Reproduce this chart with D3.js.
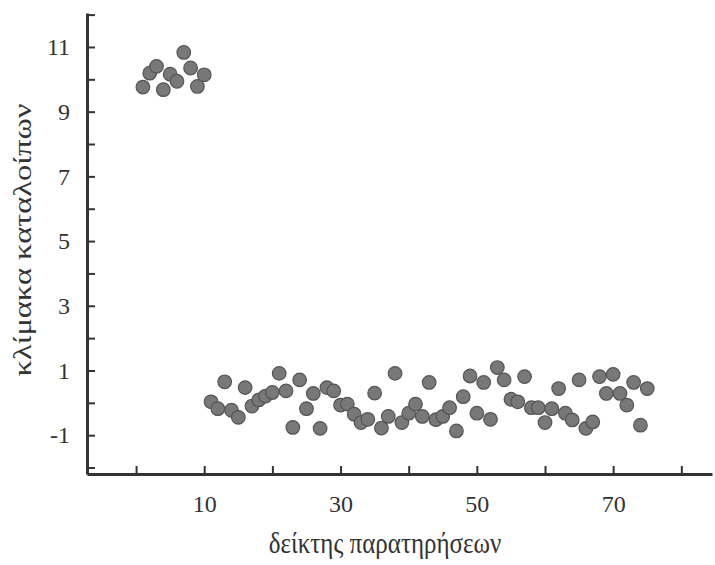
<!DOCTYPE html>
<html>
<head>
<meta charset="utf-8">
<script src="https://cdn.jsdelivr.net/npm/d3@7"></script>
<style>
  body { margin: 0; background: #fff; }
  svg text { font-family: "Liberation Serif", "Times New Roman", serif; fill: #333; }
</style>
</head>
<body>
<div id="chart"></div>
<script>
  let obsIndex = d3.range(1, 76);
  let residuals = [
    9.76, 10.19, 10.40, 9.68, 10.16, 9.94, 10.83, 10.35, 9.78, 10.14,
    0.03, -0.18, 0.65, -0.23, -0.45, 0.47, -0.10, 0.09, 0.21, 0.32,
    0.91, 0.37, -0.76, 0.71, -0.18, 0.29, -0.79, 0.47, 0.37, -0.07,
    -0.04, -0.35, -0.61, -0.51, 0.30, -0.78, -0.42, 0.91, -0.61, -0.32,
    -0.04, -0.42, 0.63, -0.52, -0.42, -0.15, -0.87, 0.19, 0.83, -0.32,
    0.63, -0.51, 1.09, 0.71, 0.11, 0.03, 0.81, -0.15, -0.15, -0.61,
    -0.18, 0.44, -0.32, -0.53, 0.71, -0.79, -0.59, 0.81, 0.29, 0.88,
    0.29, -0.07, 0.63, -0.69, 0.44
  ];
  let xTicks = [0, 10, 20, 30, 40, 50, 60, 70, 80];
  let xTickLabels = [10, 30, 50, 70];
  let yTicks = d3.range(-2, 13);
  let yTickLabels = [-1, 1, 3, 5, 7, 9, 11];
  let xTitle = "δείκτης παρατηρήσεων";
  let yTitle = "κλίμακα καταλοίπων";

  let WIDTH = 715, HEIGHT = 565;
  let LEFT = 87, RIGHT = 712, TOP = 13, BOTTOM = 474;

  let points = obsIndex.map(function(d, i) { return {x: d, y: residuals[i]}; });

  let xScale = d3.scaleLinear().domain([-7.2, 84.5]).range([LEFT, RIGHT]);
  let yScale = d3.scaleLinear().domain([-2.2, 12.05]).range([BOTTOM, TOP]);

  let svg = d3.select("#chart").append("svg").attr("width", WIDTH).attr("height", HEIGHT);

  // x axis: ticks point up into the plot, labels on every other tick
  let xAxis = svg.append("g").attr("transform", "translate(0," + BOTTOM + ")")
                 .call(d3.axisBottom(xScale).tickValues(xTicks).tickSizeInner(-8).tickSizeOuter(0)
                         .tickPadding(21)
                         .tickFormat(function(d) { return xTickLabels.indexOf(d) >= 0 ? d : ""; }));

  let yAxis = svg.append("g").attr("transform", "translate(" + LEFT + ",0)")
                 .call(d3.axisLeft(yScale).tickValues(yTicks).tickSizeInner(-8).tickSizeOuter(0)
                         .tickPadding(17)
                         .tickFormat(function(d) { return yTickLabels.indexOf(d) >= 0 ? d : ""; }));

  [xAxis, yAxis].forEach(function(ax) {
    ax.select(".domain").attr("stroke", "#333").attr("stroke-width", 3);
    ax.selectAll(".tick line").attr("stroke", "#333").attr("stroke-width", 2);
    ax.selectAll(".tick text").attr("font-size", 24).attr("fill", "#333")
      .attr("font-family", "Liberation Serif, Times New Roman, serif");
  });

  // the source picture is stretched a little vertically, so the titles are too
  svg.append("text").attr("transform", "translate(385,553) scale(1,1.15)")
     .attr("text-anchor", "middle").attr("font-size", 25).text(xTitle);

  svg.append("text").attr("transform", "translate(31,240) scale(1,1.3) rotate(-90)")
     .attr("text-anchor", "middle").attr("font-size", 25).text(yTitle);

  svg.selectAll("circle.pt")
     .data(points)
     .enter()
     .append("circle")
     .attr("class", "pt")
     .attr("cx", function(d) { return xScale(d.x); })
     .attr("cy", function(d) { return yScale(d.y); })
     .attr("r", 6.8)
     .attr("fill", "#787878")
     .attr("stroke", "#555")
     .attr("stroke-width", 1.2);
</script>
</body>
</html>
